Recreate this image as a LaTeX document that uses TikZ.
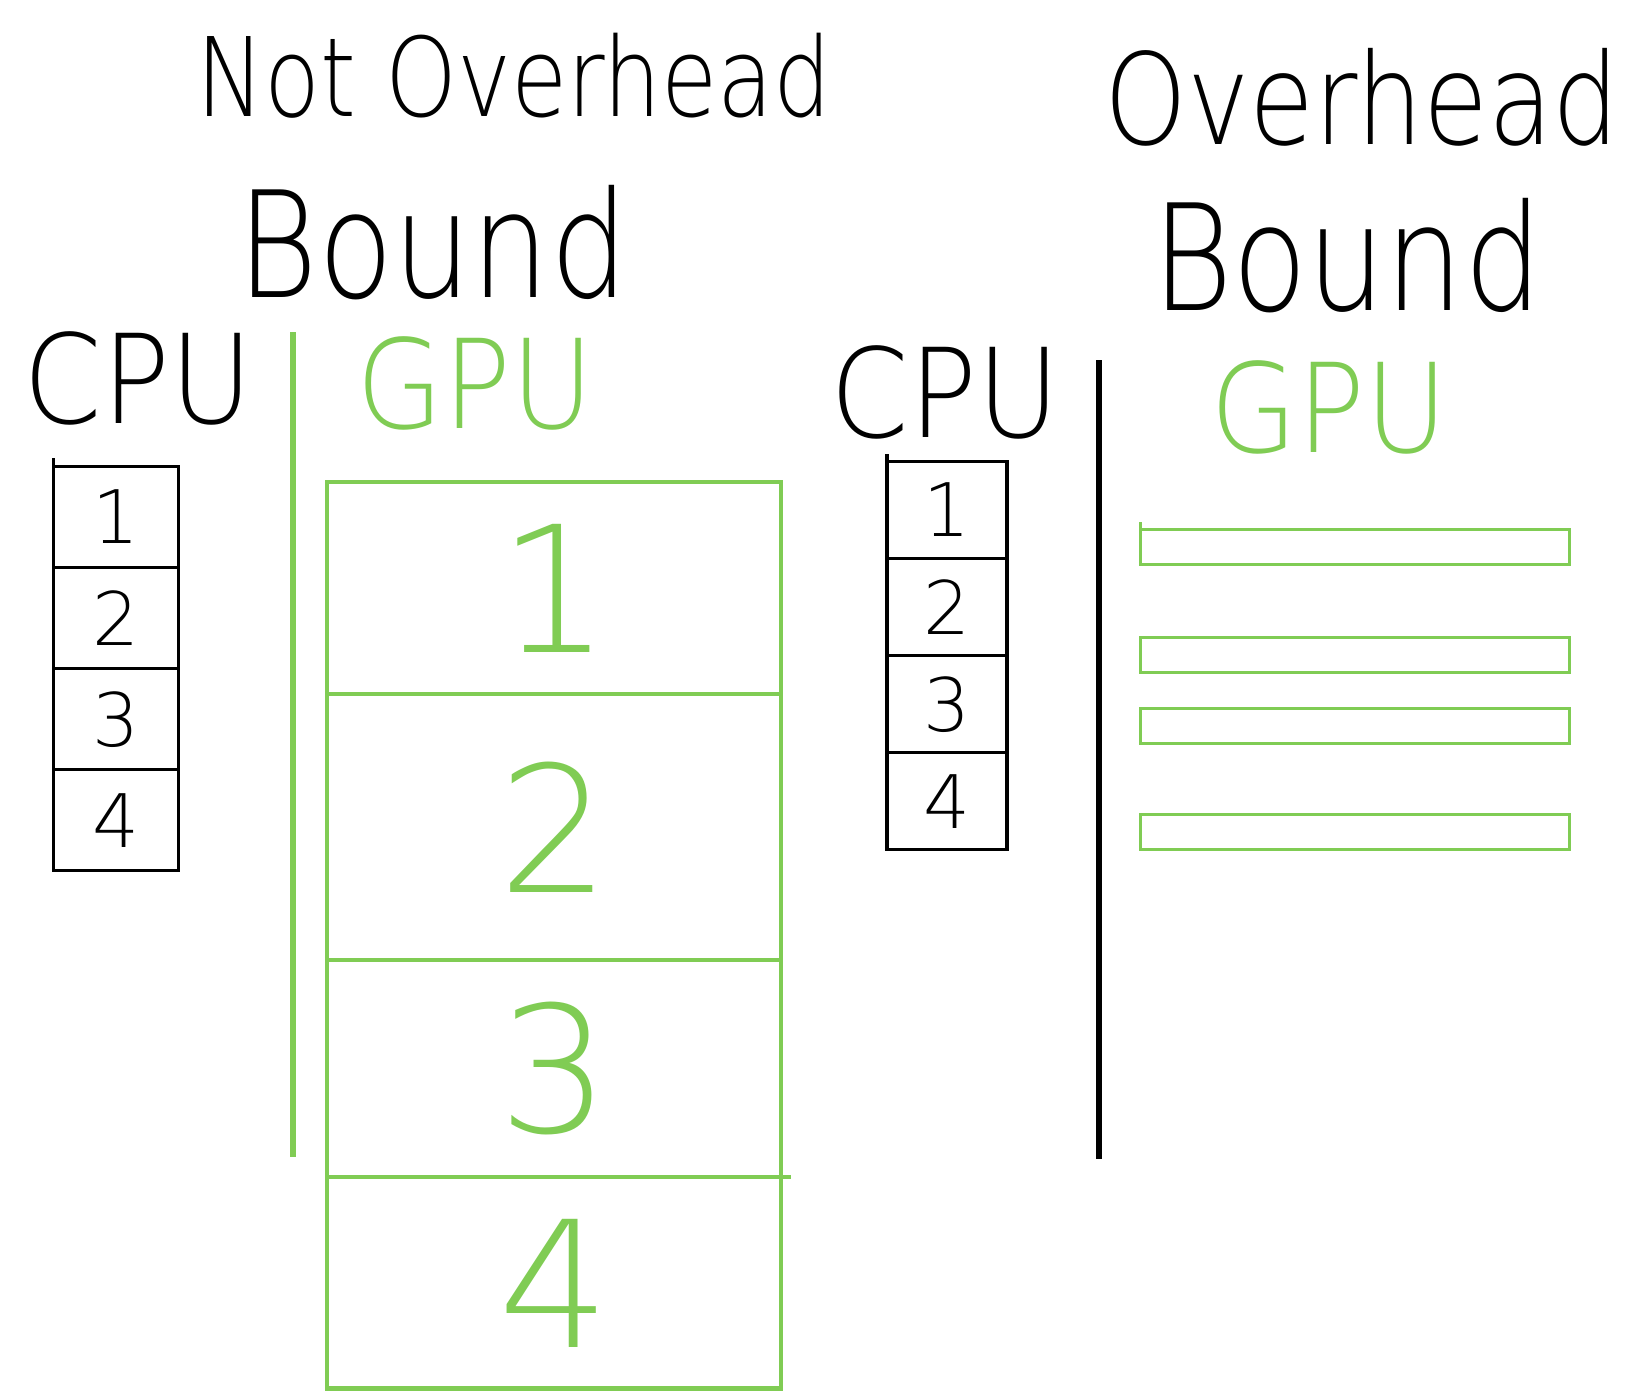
\documentclass[tikz,border=0pt]{standalone}
\usepackage{fontspec}
\newfontfamily\handfont{DejaVuSans-ExtraLight.ttf}
\usetikzlibrary{positioning}
\definecolor{gpugreen}{RGB}{128,204,84}

\begin{document}
\begin{tikzpicture}[
  x=0.01cm,y=-0.01cm,
  title/.style={font=\handfont\fontsize{#1}{#1}\selectfont,inner sep=0pt,yscale=1.2},
  unit/.style={font=\handfont\fontsize{32}{36}\selectfont,inner sep=0pt,yscale=1.1},
  cpubox/.style={draw,line width=0.9pt,minimum width=#1,minimum height=10.1mm,
                 inner sep=0pt,outer sep=0pt,font=\handfont\fontsize{21}{24}\selectfont},
  gpubox/.style={draw=gpugreen,line width=1.2pt,minimum width=45.4mm,minimum height=#1,
                 inner sep=0pt,outer sep=0pt,text=gpugreen,font=\handfont\fontsize{50}{54}\selectfont},
  kbar/.style={draw=gpugreen,line width=0.9pt,minimum width=42.8mm,minimum height=3.5mm,
               inner sep=0pt,outer sep=0pt},
  divider/.style={line width=1.5pt}
]
\useasboundingbox (0,0) rectangle (1637,1390);

% left half: not overhead bound
\node[title=26] (nottop) at (514,76)  {Not Overhead};
\node[title=35] (notbot) at (433,243) {Bound};
\node[unit] (cpuL) at (138,378) {CPU};
\node[unit,text=gpugreen] (gpuL) at (475,383) {GPU};
\draw[divider,gpugreen] (293,332) -- (293,1157);

\node[cpubox=12.5mm] (cpuL1) at (116,517) {1};
\node[cpubox=12.5mm,below=0pt of cpuL1] (cpuL2) {2};
\node[cpubox=12.5mm,below=0pt of cpuL2] (cpuL3) {3};
\node[cpubox=12.5mm,below=0pt of cpuL3] (cpuL4) {4};
\draw[line width=0.9pt] (cpuL1.north west) -- ++(0,-8);

\node[gpubox=21.2mm] (gpuL1) at (554,588) {1};
\node[gpubox=26.6mm,below=0pt of gpuL1] (gpuL2) {2};
\node[gpubox=21.7mm,below=0pt of gpuL2] (gpuL3) {3};
\node[gpubox=21.1mm,below=0pt of gpuL3] (gpuL4) {4};
\draw[gpugreen,line width=1.2pt] (gpuL3.south east) -- ++(10,0);

% right half: overhead bound
\node[title=30] (ovtop) at (1362,97)  {Overhead};
\node[title=35] (ovbot) at (1347,256) {Bound};
\node[unit] (cpuR) at (945,392) {CPU};
\node[unit,text=gpugreen] (gpuR) at (1329,407) {GPU};
\draw[divider] (1099,360) -- (1099,1159);

\node[cpubox=12mm,minimum height=9.7mm] (cpuR1) at (947,510) {1};
\node[cpubox=12mm,minimum height=9.7mm,below=0pt of cpuR1] (cpuR2) {2};
\node[cpubox=12mm,minimum height=9.7mm,below=0pt of cpuR2] (cpuR3) {3};
\node[cpubox=12mm,minimum height=9.7mm,below=0pt of cpuR3] (cpuR4) {4};
\draw[line width=0.9pt] (cpuR1.north west) -- ++(0,-7);

\node[kbar] (barR1) at (1355,547) {};
\node[kbar] (barR2) at (1355,655) {};
\node[kbar] (barR3) at (1355,726) {};
\node[kbar] (barR4) at (1355,832) {};
\draw[gpugreen,line width=0.9pt] (barR1.north west) -- ++(0,-8);
\end{tikzpicture}
\end{document}
